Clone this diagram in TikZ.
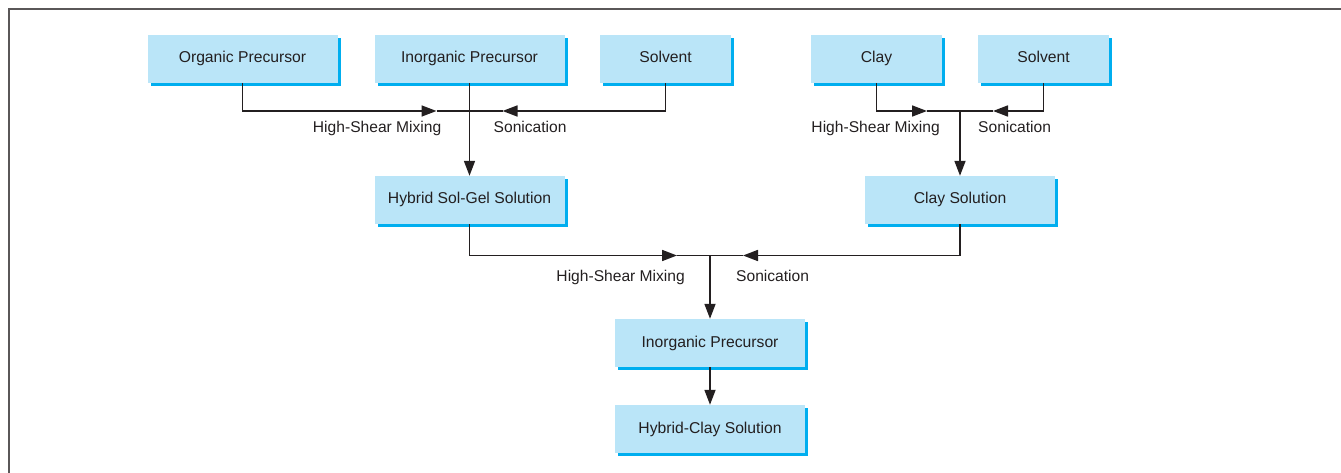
\documentclass[tikz,border=0pt]{standalone}
\usepackage{fontspec}
\setmainfont{Liberation Sans}
\usetikzlibrary{arrows.meta,shadows,calc}
\definecolor{boxfill}{HTML}{BAE5F8}
\definecolor{boxedge}{HTML}{00AEEF}
\definecolor{ink}{HTML}{231F20}
\begin{document}
\begin{tikzpicture}[x=1pt,y=-1pt,
    stagebox/.style={fill=boxfill, text=ink, inner sep=0pt, minimum height=48pt,
      font=\fontsize{15.7}{18}\selectfont, text height=11.3pt, text depth=3.3pt,
      general shadow={fill=boxedge, shadow xshift=3pt, shadow yshift=-3pt}},
    wide/.style={stagebox, minimum width=190pt},
    narrow/.style={stagebox, minimum width=131pt},
    flow/.style={draw=ink, line width=1.7pt},
    tip/.style={flow, -{Triangle[length=15pt,width=11pt]}},
    steplabel/.style={text=ink, inner sep=0pt, text height=11.3pt, text depth=3.3pt,
      font=\fontsize{15.6}{18}\selectfont}]
        \useasboundingbox (0,0) rectangle (1341,473);
        \draw[ink!75, line width=1.6pt] (9,473) -- (9,9) -- (1341,9);

        % first row
        \node[wide] (organic) at (242.5,59) {Organic Precursor};
        \node[wide] (inorganic) at (469.5,59) {Inorganic Precursor};
        \node[narrow] (solvent) at (665.5,59) {Solvent};
        \node[narrow] (clay) at (876.5,59) {Clay};
        \node[narrow] (claysolvent) at (1043.5,59) {Solvent};

        % second row
        \node[wide] (solgel) at (469.5,200) {Hybrid Sol-Gel Solution};
        \node[wide] (claysol) at (960,200) {Clay Solution};

        % last column
        \node[wide] (precursor) at (710,343) {Inorganic Precursor};
        \node[wide] (hybridclay) at (710,429) {Hybrid-Clay Solution};

        % sol-gel branch
        \coordinate (jsg) at (469.5,111);
        \coordinate (sgl) at ($(jsg)+(-33,0)$);
        \coordinate (sgr) at ($(jsg)+(33,0)$);
        \draw[flow] (sgl) -- (sgr);
        \draw[tip] (organic.south) |- (sgl);
        \draw[tip] (solvent.south) |- (sgr);
        \draw[tip] (inorganic.south) -- (solgel.north);
        \node[steplabel, anchor=east] (mixsg) at ($(jsg)+(-28,17.5)$) {High-Shear Mixing};
        \node[steplabel, anchor=west] (sonsg) at ($(jsg)+(24,17.5)$) {Sonication};

        % clay branch
        \coordinate (jcl) at (960,111);
        \coordinate (cll) at ($(jcl)+(-33,0)$);
        \coordinate (clr) at ($(jcl)+(33,0)$);
        \draw[flow] (cll) -- (clr);
        \draw[tip] (clay.south) |- (cll);
        \draw[tip] (claysolvent.south) |- (clr);
        \draw[tip] (jcl) -- (claysol.north);
        \node[steplabel, anchor=east] (mixcl) at ($(jcl)+(-20,17.5)$) {High-Shear Mixing};
        \node[steplabel, anchor=west] (soncl) at ($(jcl)+(18,17.5)$) {Sonication};

        % merging
        \coordinate (jhy) at (710,255.5);
        \coordinate (hyl) at ($(jhy)+(-33,0)$);
        \coordinate (hyr) at ($(jhy)+(33,0)$);
        \draw[flow] (hyl) -- (hyr);
        \draw[tip] (solgel.south) |- (hyl);
        \draw[tip] (claysol.south) |- (hyr);
        \draw[tip] (jhy) -- (precursor.north);
        \node[steplabel, anchor=east] (mixhy) at ($(jhy)+(-25,22)$) {High-Shear Mixing};
        \node[steplabel, anchor=west] (sonhy) at ($(jhy)+(26,22)$) {Sonication};

        \draw[tip] (precursor.south) -- (hybridclay.north);
      \end{tikzpicture}
\end{document}
